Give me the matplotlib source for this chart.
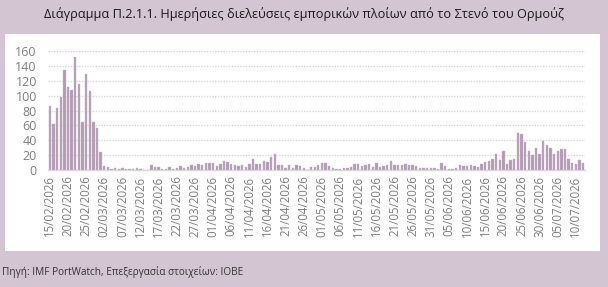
import numpy as np
import pandas as pd
import matplotlib
matplotlib.use("Agg")
import matplotlib.pyplot as plt
from matplotlib.patches import Rectangle

TITLE = "Διάγραμμα Π.2.1.1. Ημερήσιες διελεύσεις εμπορικών πλοίων από το Στενό του Ορμούζ"
SOURCE = "Πηγή: IMF PortWatch, Επεξεργασία στοιχείων: IOBE"

START_DATE = "2026-02-15"

# daily transits
transits = [
    86, 62, 84, 98, 135, 111, 107, 152, 115, 64, 129, 106, 64, 56, 24, 5, 4, 2,
    3, 1, 3, 1, 1, 1, 3, 1, 0, 0, 7, 4, 4, 1, 1, 4, 1, 3, 5, 3, 4, 7, 5, 8, 7,
    10, 10, 10, 6, 8, 12, 11, 8, 7, 6, 7, 4, 8, 15, 8, 8, 12, 11, 17, 21, 7, 7,
    3, 7, 3, 7, 5, 3, 0, 4, 4, 7, 9, 9, 5, 3, 1, 1, 3, 3, 4, 8, 8, 5, 7, 8, 4,
    9, 4, 6, 7, 12, 7, 7, 7, 8, 7, 7, 5, 3, 3, 3, 3, 3, 2, 10, 5, 2, 2, 3, 7, 6,
    6, 7, 6, 4, 8, 11, 12, 15, 21, 13, 25, 8, 14, 15, 50, 49, 37, 26, 20, 30,
    21, 39, 33, 30, 22, 25, 28, 28, 15, 10, 8, 13, 10,
]

y_ticks = [0, 20, 40, 60, 80, 100, 120, 140, 160]

BG = "#D4C5D3"
BAR = "#B29CB2"
GRID = "#D9D9D9"
TICK = "#7F7F7F"

plt.rcParams["font.family"] = ["Open Sans", "DejaVu Sans"]

dates = pd.date_range(START_DATE, periods=len(transits), freq="D")
labels = [d.strftime("%d/%m/%Y") for d in dates]
x = np.arange(len(transits))

fig = plt.figure(figsize=(6.08, 2.87), dpi=100, facecolor=BG)

# white panel behind the chart
fig.patches.append(Rectangle((5 / 608, 1 - 251 / 287), 595 / 608, 217 / 287,
                             transform=fig.transFigure, facecolor="white",
                             edgecolor="none", zorder=-5))

ax = fig.add_axes([48 / 608, 1 - 170 / 287, 537 / 608, 119 / 287])
ax.set_zorder(2)
ax.set_facecolor("none")

ax.bar(x, transits, width=0.65, color=BAR, edgecolor="#C9B9C9", linewidth=0.3, zorder=3)

ax.set_xlim(-0.5, len(transits) - 0.5)
ax.set_ylim(0, 160)
ax.set_yticks(y_ticks)
ax.yaxis.grid(True, color=GRID, linestyle=(0, (1, 1)), linewidth=1.0, zorder=0)
ax.set_axisbelow(True)

ax.set_xticks(x[::5])
ax.set_xticklabels(labels[::5], rotation=90, fontsize=8.3, color=TICK)
ax.tick_params(axis="x", length=0, pad=4)
ax.tick_params(axis="y", length=0, pad=8, labelsize=9, labelcolor=TICK)

for side in ["top", "right", "left"]:
    ax.spines[side].set_visible(False)
ax.spines["bottom"].set_color(GRID)
ax.spines["bottom"].set_linewidth(1.0)

fig.text(0.5, 1 - 14 / 287, TITLE, ha="center", va="center", fontsize=9.2, color="#1A1A1A")
fig.text(2 / 608, 1 - 272 / 287, SOURCE, ha="left", va="center", fontsize=7.2, color="#333333")

fig.savefig("out.png", dpi=100, facecolor=BG)
